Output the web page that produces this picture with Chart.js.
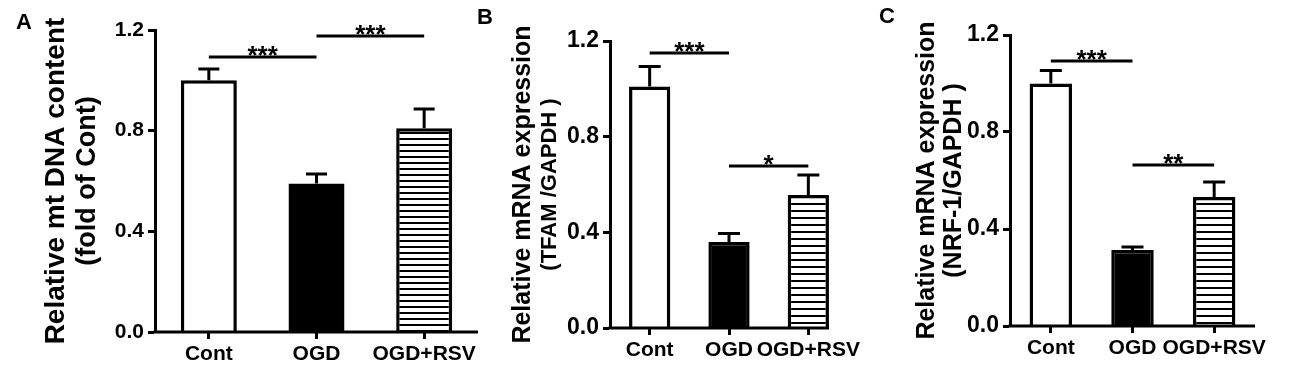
<!DOCTYPE html>
<html>
<head>
<meta charset="utf-8">
<script src="https://cdn.jsdelivr.net/npm/chart.js@4.4.1/dist/chart.umd.min.js"></script>
<style>
  html, body { margin: 0; padding: 0; background: #fff; }
  body { width: 1300px; height: 376px; position: relative; overflow: hidden; }
  canvas { position: absolute; top: 0; }
</style>
</head>
<body>
<canvas id="panelA" width="490" height="376" style="left:0px"></canvas>
<canvas id="panelB" width="405" height="376" style="left:465px"></canvas>
<canvas id="panelC" width="430" height="376" style="left:870px"></canvas>
<script>
const groups = ['Cont', 'OGD', 'OGD+RSV'];
const yTicks = [0.0, 0.4, 0.8, 1.2];

// A: mtDNA content
const mtDnaMean = [1.00, 0.59, 0.81];
const mtDnaSem = [0.045, 0.038, 0.076];
const mtDnaSig = [[0, 1, 1.093, '***'], [1, 2, 1.176, '***']];

// B: TFAM mRNA
const tfamMean = [1.01, 0.36, 0.556];
const tfamSem = [0.083, 0.035, 0.084];
const tfamSig = [[0, 1, 1.15, '***'], [1, 2, 0.677, '*']];

// C: NRF-1 mRNA
const nrf1Mean = [1.00, 0.313, 0.532];
const nrf1Sem = [0.054, 0.013, 0.062];
const nrf1Sig = [[0, 1, 1.093, '***'], [1, 2, 0.664, '**']];

const FONT = '"Liberation Sans", Arial, Helvetica, sans-serif';

function hatch(ctx, gap) {
    const c = document.createElement('canvas');
    c.width = 8; c.height = gap;
    const g = c.getContext('2d');
    g.fillStyle = '#fff'; g.fillRect(0, 0, 8, gap);
    g.fillStyle = '#000'; g.fillRect(0, 0, 8, 2);
    return ctx.createPattern(c, 'repeat');
}

function makePanel(id, mean, sem, sig, o) {
    const canvas = document.getElementById(id);
    const ctx = canvas.getContext('2d');

    const deco = {
        id: 'deco_' + id,
        afterDatasetsDraw(chart) {
            const c = chart.ctx, x = chart.scales.x, y = chart.scales.y, area = chart.chartArea;
            const bars = chart.getDatasetMeta(0).data;
            c.save();
            c.strokeStyle = '#000';
            c.fillStyle = '#000';
            c.lineWidth = 3;

            // x axis line
            const last = bars[bars.length - 1];
            const end = o.axisToBar ? last.x + last.width / 2 : area.right;
            c.beginPath();
            c.moveTo(area.left - 1.5, area.bottom);
            c.lineTo(end, area.bottom);
            c.stroke();

            // upper error bars
            mean.forEach((m, i) => {
                const cx = x.getPixelForValue(i);
                const top = y.getPixelForValue(m + sem[i]);
                c.beginPath();
                c.moveTo(cx, y.getPixelForValue(m));
                c.lineTo(cx, top);
                c.moveTo(cx - o.cap / 2, top);
                c.lineTo(cx + o.cap / 2, top);
                c.stroke();
            });

            // significance bars
            c.font = 'bold 26px ' + FONT;
            c.textAlign = 'center';
            c.textBaseline = 'alphabetic';
            sig.forEach(([a, b, v, label]) => {
                const x1 = x.getPixelForValue(a), x2 = x.getPixelForValue(b);
                const py = y.getPixelForValue(v);
                c.beginPath();
                c.moveTo(x1, py);
                c.lineTo(x2, py);
                c.stroke();
                c.fillText(label, (x1 + x2) / 2, py + 7);
            });

            // y titles
            const cy = (area.top + area.bottom) / 2;
            c.textBaseline = 'middle';
            o.titles.forEach(t => {
                c.save();
                c.translate(t.x, cy);
                c.rotate(-Math.PI / 2);
                c.font = 'bold ' + t.size + 'px ' + FONT;
                c.fillText(t.text, 0, 0);
                c.restore();
            });

            // panel letter
            c.font = 'bold 22px ' + FONT;
            c.fillText(o.letter, o.letterX, o.letterY);
            c.restore();
        }
    };

    new Chart(canvas, {
        type: 'bar',
        data: {
            labels: groups,
            datasets: [{
                data: mean,
                backgroundColor: ['#ffffff', '#000000', hatch(ctx, o.gap)],
                borderColor: '#000',
                borderWidth: 3.5,
                borderSkipped: 'start',
                barPercentage: 0.52,
                categoryPercentage: 1
            }]
        },
        options: {
            responsive: false,
            animation: false,
            events: [],
            layout: { padding: { top: o.top, right: o.right, left: 0, bottom: 0 } },
            plugins: { legend: { display: false }, tooltip: { enabled: false } },
            scales: {
                x: {
                    afterFit: s => { s.height = o.xHeight; },
                    grid: { drawOnChartArea: false, offset: false, tickLength: 7, tickWidth: 3, tickColor: '#000' },
                    border: { display: false },
                    ticks: {
                        color: '#000',
                        padding: 3,
                        maxRotation: 0,
                        minRotation: 0,
                        autoSkip: false,
                        font: { family: FONT, size: o.xFont, weight: 'bold' }
                    }
                },
                y: {
                    min: 0,
                    max: 1.2,
                    afterFit: s => { s.width = o.yWidth; },
                    afterBuildTicks: s => { s.ticks = yTicks.map(v => ({ value: v })); },
                    grid: { drawOnChartArea: false, tickLength: 7, tickWidth: 3, tickColor: '#000' },
                    border: { display: true, color: '#000', width: 3 },
                    ticks: {
                        color: '#000',
                        padding: 4,
                        font: { family: FONT, size: o.yFont, weight: 'bold' },
                        callback: v => v.toFixed(1)
                    }
                }
            }
        },
        plugins: [deco]
    });
}

makePanel('panelA', mtDnaMean, mtDnaSem, mtDnaSig, {
    top: 30, right: 12, xHeight: 44, yWidth: 155, gap: 6, cap: 21,
    xFont: 21, yFont: 21,
    titles: [
        { text: 'Relative mt DNA content', x: 56, size: 28 },
        { text: '(fold of Cont)', x: 88, size: 27 }
    ],
    letter: 'A', letterX: 24, letterY: 23
});

makePanel('panelB', tfamMean, tfamSem, tfamSig, {
    top: 41, right: 22, xHeight: 48, yWidth: 145, gap: 7, cap: 22, axisToBar: true,
    xFont: 21, yFont: 23,
    titles: [
        { text: 'Relative mRNA expression', x: 58, size: 25 },
        { text: '(TFAM /GAPDH )', x: 85, size: 22 }
    ],
    letter: 'B', letterX: 20, letterY: 18
});

makePanel('panelC', nrf1Mean, nrf1Sem, nrf1Sig, {
    top: 35, right: 45, xHeight: 50, yWidth: 140, gap: 7, cap: 22,
    xFont: 21, yFont: 23,
    titles: [
        { text: 'Relative mRNA expression', x: 57, size: 25 },
        { text: '(NRF-1/GAPDH )', x: 84, size: 25 }
    ],
    letter: 'C', letterX: 17, letterY: 17
});
</script>
</body>
</html>
